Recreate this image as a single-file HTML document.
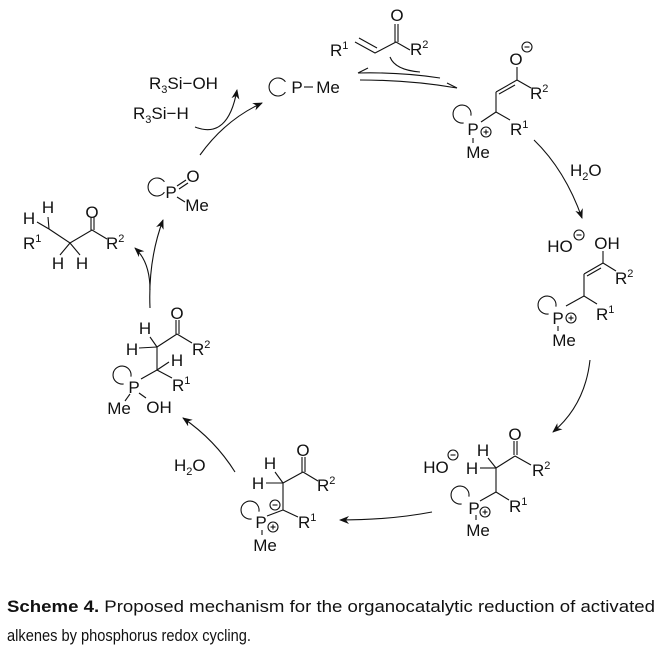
<!DOCTYPE html>
<html><head><meta charset="utf-8"><style>
html,body{margin:0;padding:0;background:#fff;}
svg{display:block;}
text{font-family:"Liberation Sans",Arial,sans-serif;font-size:17px;fill:#111;}
.m{text-anchor:middle;}
.s{font-size:11px;}
.cap{font-size:17px;}
</style></head><body>
<svg width="665" height="646" viewBox="0 0 665 646" xmlns="http://www.w3.org/2000/svg">
<defs>
<marker id="a" markerWidth="10" markerHeight="8" refX="9" refY="4" orient="auto" markerUnits="userSpaceOnUse"><path d="M0,0 L10,4 L0,8 L3,4 z" fill="#111"/></marker>
</defs>
<g stroke="#111" stroke-width="1.1" fill="none">
<path d="M285.4,92.2 A9,9 0 1 1 285.4,81.8"/>
<line x1="304" y1="87" x2="313" y2="87"/>
<path d="M200,155 Q225,120 262,103" marker-end="url(#a)"/>
<path d="M195,127 Q228,140 237,90" marker-end="url(#a)"/>
<path d="M164.4,192.2 A9,9 0 1 1 164.4,181.8"/>
<line x1="177" y1="186" x2="186" y2="180"/><line x1="179" y1="189" x2="188" y2="183"/>
<line x1="177" y1="197" x2="185" y2="202"/>
<path d="M49,229 L70,243 L92,230 L107,239"/>
<line x1="49" y1="229" x2="48" y2="217"/>
<line x1="49" y1="229" x2="37" y2="222"/>
<line x1="70" y1="243" x2="60" y2="255"/><line x1="70" y1="243" x2="80" y2="255"/>
<line x1="91" y1="230" x2="91" y2="217"/><line x1="94" y1="230" x2="94" y2="217"/>
<path d="M150,308 Q148,260 163,220" marker-end="url(#a)"/>
<path d="M150,290 Q150,262 135,248" marker-end="url(#a)"/>
<path d="M355,42 L375,53 L396,42 L410,50"/>
<line x1="359" y1="38" x2="377" y2="48"/>
<line x1="395" y1="42" x2="395" y2="24"/><line x1="398" y1="42" x2="398" y2="24"/>
<path d="M440,78 Q400,72 358,73"/><path d="M358,73 L368,68"/>
<path d="M360,80 Q410,80 457,88"/><path d="M457,88 L447,83"/>
<path d="M390,57 Q395,70 420,72"/>
<line x1="517" y1="67" x2="517" y2="80"/>
<line x1="517" y1="80" x2="496" y2="92"/><line x1="515" y1="85" x2="499" y2="94"/>
<line x1="517" y1="80" x2="531" y2="88"/>
<line x1="496" y1="92" x2="496" y2="112"/>
<line x1="496" y1="112" x2="510" y2="120"/>
<line x1="496" y1="112" x2="481" y2="122"/>
<path d="M463.6,122.9 A9,9 0 1 1 470.9,115.6"/>
<line x1="473" y1="138" x2="473" y2="143"/>
<circle cx="486" cy="132" r="5"/>
<path d="M534,140 Q565,170 582,218" marker-end="url(#a)"/>
<line x1="603" y1="251" x2="603" y2="263"/>
<line x1="603" y1="263" x2="584" y2="274"/><line x1="601" y1="268" x2="587" y2="276"/>
<line x1="603" y1="263" x2="616" y2="271"/>
<line x1="584" y1="274" x2="584" y2="296"/>
<line x1="584" y1="296" x2="597" y2="304"/>
<line x1="584" y1="296" x2="566" y2="306"/>
<path d="M548.6,313.9 A9,9 0 1 1 555.9,306.6"/>
<line x1="558" y1="326" x2="558" y2="331"/>
<circle cx="571" cy="318" r="5"/>
<path d="M590,360 Q585,405 553,432" marker-end="url(#a)"/>
<line x1="514" y1="441" x2="514" y2="455"/><line x1="517" y1="441" x2="517" y2="455"/>
<line x1="515" y1="456" x2="531" y2="465"/>
<line x1="515" y1="456" x2="496" y2="468"/>
<line x1="496" y1="468" x2="488" y2="458"/>
<line x1="496" y1="468" x2="480" y2="468"/>
<line x1="496" y1="468" x2="496" y2="492"/>
<line x1="496" y1="492" x2="509" y2="500"/>
<line x1="496" y1="492" x2="480" y2="501"/>
<path d="M461.6,503.9 A9,9 0 1 1 468.9,496.6"/>
<line x1="476" y1="515" x2="476" y2="520"/>
<circle cx="485" cy="512" r="5"/>
<path d="M432,512 Q390,520 340,520" marker-end="url(#a)"/>
<line x1="302" y1="457" x2="302" y2="472"/><line x1="305" y1="457" x2="305" y2="472"/>
<line x1="303" y1="472" x2="318" y2="481"/>
<line x1="303" y1="472" x2="283" y2="483"/>
<line x1="283" y1="483" x2="275" y2="472"/>
<line x1="283" y1="483" x2="266" y2="483"/>
<line x1="283" y1="483" x2="283" y2="510"/>
<line x1="283" y1="510" x2="298" y2="517"/>
<line x1="283" y1="510" x2="267" y2="516"/>
<path d="M251.6,518.9 A9,9 0 1 1 258.9,511.6"/>
<line x1="262" y1="530" x2="262" y2="535"/>
<circle cx="273" cy="527" r="5"/>
<circle cx="275" cy="505" r="5"/>
<path d="M235,472 Q215,440 183,418" marker-end="url(#a)"/>
<line x1="176" y1="320" x2="176" y2="334"/><line x1="179" y1="320" x2="179" y2="334"/>
<line x1="177" y1="334" x2="192" y2="343"/>
<line x1="177" y1="334" x2="157" y2="347"/>
<line x1="157" y1="347" x2="150" y2="337"/>
<line x1="157" y1="347" x2="139" y2="348"/>
<line x1="157" y1="347" x2="157" y2="370"/>
<line x1="157" y1="370" x2="169" y2="362"/>
<line x1="157" y1="370" x2="172" y2="378"/>
<line x1="157" y1="370" x2="141" y2="379"/>
<path d="M123.6,383.9 A9,9 0 1 1 130.9,376.6"/>
<line x1="130" y1="394" x2="125" y2="401"/>
<line x1="139" y1="393" x2="146" y2="398"/>
</g>
<g stroke="#111" stroke-width="1.1">
<line x1="483.5" y1="132" x2="488.5" y2="132"/><line x1="486" y1="129.5" x2="486" y2="134.5"/>
<line x1="568.5" y1="318" x2="573.5" y2="318"/><line x1="571" y1="315.5" x2="571" y2="320.5"/>
<line x1="482.5" y1="512" x2="487.5" y2="512"/><line x1="485" y1="509.5" x2="485" y2="514.5"/>
<line x1="270.5" y1="527" x2="275.5" y2="527"/><line x1="273" y1="524.5" x2="273" y2="529.5"/>
<line x1="272.5" y1="505" x2="277.5" y2="505"/>
</g>
<g fill="none" stroke="#111" stroke-width="1.1">
<circle cx="527" cy="47" r="5"/><line x1="524.5" y1="47" x2="529.5" y2="47"/>
<circle cx="579" cy="235" r="5"/><line x1="576.5" y1="235" x2="581.5" y2="235"/>
<circle cx="453" cy="455" r="5"/><line x1="450.5" y1="455" x2="455.5" y2="455"/>
</g>
<text x="149" y="89">R<tspan class="s" dy="4">3</tspan><tspan dy="-4">Si−OH</tspan></text>
<text x="133" y="119">R<tspan class="s" dy="4">3</tspan><tspan dy="-4">Si−H</tspan></text>
<text class="m" x="297" y="93">P</text><text class="m" x="328" y="93">Me</text>
<text class="m" x="171" y="198">P</text><text class="m" x="193" y="182">O</text><text class="m" x="197" y="211">Me</text>
<text class="m" x="48" y="213">H</text><text class="m" x="29" y="224">H</text>
<text x="23" y="249">R<tspan class="s" dy="-7">1</tspan></text>
<text class="m" x="58" y="269">H</text><text class="m" x="82" y="269">H</text>
<text class="m" x="92" y="218">O</text>
<text x="106" y="249">R<tspan class="s" dy="-7">2</tspan></text>
<text x="330" y="56">R<tspan class="s" dy="-7">1</tspan></text>
<text class="m" x="397" y="21">O</text>
<text x="410" y="55">R<tspan class="s" dy="-7">2</tspan></text>
<text class="m" x="516" y="65">O</text>
<text x="530" y="99">R<tspan class="s" dy="-7">2</tspan></text>
<text x="510" y="135">R<tspan class="s" dy="-7">1</tspan></text>
<text class="m" x="473" y="135">P</text><text class="m" x="478" y="158">Me</text>
<text x="570" y="176">H<tspan class="s" dy="4">2</tspan><tspan dy="-4">O</tspan></text>
<text class="m" x="560" y="252">HO</text><text class="m" x="607" y="249">OH</text>
<text x="615" y="284">R<tspan class="s" dy="-7">2</tspan></text>
<text x="596" y="320">R<tspan class="s" dy="-7">1</tspan></text>
<text class="m" x="558" y="324">P</text><text class="m" x="564" y="346">Me</text>
<text class="m" x="515" y="440">O</text>
<text class="m" x="436" y="473">HO</text>
<text class="m" x="483" y="456">H</text><text class="m" x="472" y="474">H</text>
<text x="532" y="476">R<tspan class="s" dy="-7">2</tspan></text>
<text x="509" y="512">R<tspan class="s" dy="-7">1</tspan></text>
<text class="m" x="474" y="514">P</text><text class="m" x="478" y="536">Me</text>
<text class="m" x="303" y="456">O</text>
<text class="m" x="270" y="469">H</text><text class="m" x="258" y="489">H</text>
<text x="317" y="491">R<tspan class="s" dy="-7">2</tspan></text>
<text x="298" y="528">R<tspan class="s" dy="-7">1</tspan></text>
<text class="m" x="261" y="528">P</text><text class="m" x="265" y="551">Me</text>
<text x="174" y="471">H<tspan class="s" dy="4">2</tspan><tspan dy="-4">O</tspan></text>
<text class="m" x="177" y="319">O</text>
<text class="m" x="145" y="334">H</text><text class="m" x="132" y="355">H</text>
<text x="192" y="355">R<tspan class="s" dy="-7">2</tspan></text>
<text class="m" x="177" y="366">H</text>
<text x="172" y="391">R<tspan class="s" dy="-7">1</tspan></text>
<text class="m" x="134" y="393">P</text>
<text class="m" x="119" y="414">Me</text><text class="m" x="159" y="413">OH</text>
<text class="cap" x="7" y="612" textLength="648" lengthAdjust="spacingAndGlyphs"><tspan font-weight="bold">Scheme 4.</tspan> Proposed mechanism for the organocatalytic reduction of activated</text>
<text class="cap" x="7" y="641" textLength="244" lengthAdjust="spacingAndGlyphs">alkenes by phosphorus redox cycling.</text>
</svg>
</body></html>
